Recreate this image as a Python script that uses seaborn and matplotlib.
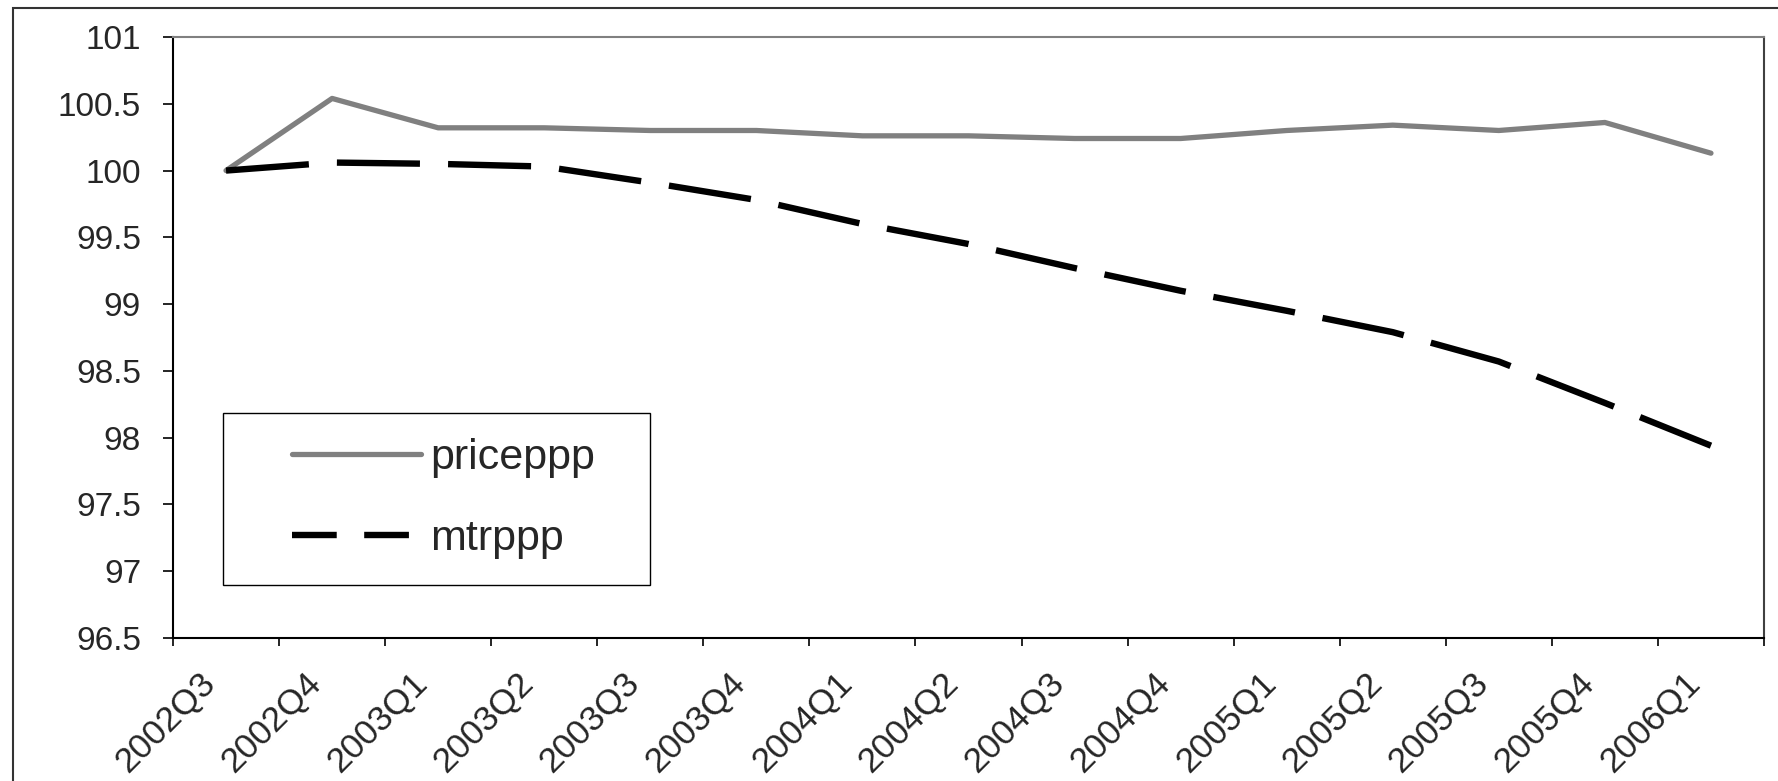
import matplotlib
matplotlib.use("Agg")
import matplotlib.pyplot as plt
import numpy as np
import pandas as pd
import seaborn as sns
from matplotlib.lines import Line2D
from matplotlib.patches import Rectangle
from matplotlib.ticker import FormatStrFormatter

# quarterly index values
quarters = ['2002Q3', '2002Q4', '2003Q1', '2003Q2', '2003Q3', '2003Q4', '2004Q1', '2004Q2',
            '2004Q3', '2004Q4', '2005Q1', '2005Q2', '2005Q3', '2005Q4', '2006Q1']
priceppp = [100.0, 100.54, 100.32, 100.32, 100.30, 100.30, 100.26, 100.26,
            100.24, 100.24, 100.30, 100.34, 100.30, 100.36, 100.13]
mtrppp = [100.0, 100.06, 100.05, 100.03, 99.91, 99.78, 99.60, 99.45,
          99.27, 99.10, 98.95, 98.79, 98.57, 98.26, 97.94]
yticks = [96.5, 97, 97.5, 98, 98.5, 99, 99.5, 100, 100.5, 101]

df = pd.DataFrame({'quarter': quarters, 'priceppp': priceppp, 'mtrppp': mtrppp})

sns.set_theme(style="white")
plt.rcParams['font.family'] = ['Liberation Sans', 'DejaVu Sans']

W, H = 1778, 781
fig = plt.figure(figsize=(W / 100, H / 100), dpi=100)
ax = fig.add_axes([173 / W, 1 - 638 / H, (1764 - 173) / W, (638 - 37) / H])

grey = '#808080'
sns.lineplot(data=df, x='quarter', y='priceppp', ax=ax, color=grey, lw=3.8,
             sort=False, legend=False, solid_capstyle='round')
sns.lineplot(data=df, x='quarter', y='mtrppp', ax=ax, color='black', lw=4.6,
             sort=False, legend=False, linestyle=(0, (13, 4.4)), dash_capstyle='butt')

n = len(quarters)
ax.set_xlim(-0.5, n - 0.5)
ax.set_ylim(96.5, 101)
ax.set_yticks(yticks)
ax.yaxis.set_major_formatter(FormatStrFormatter('%g'))
ax.tick_params(axis='y', direction='out', length=7, width=1.2, color='black',
               labelsize=24, pad=16, left=True)

# tick marks sit between categories, labels are shifted towards the point
ax.set_xticks(np.arange(n + 1) - 0.5)
ax.set_xticklabels([])
ax.set_xticks(np.arange(n) - 0.15, minor=True)
ax.set_xticklabels(quarters, minor=True, rotation=45, ha='right', va='center',
                   rotation_mode='anchor', fontsize=25.5)
ax.tick_params(axis='x', which='major', direction='out', length=6, width=1.2,
               color='black', bottom=True)
ax.tick_params(axis='x', which='minor', length=0, pad=29)
ax.set_xlabel('')
ax.set_ylabel('')

for side in ['left', 'bottom']:
    ax.spines[side].set_color('black')
    ax.spines[side].set_linewidth(1.5)
ax.spines['top'].set_color(grey)
ax.spines['top'].set_linewidth(1.5)
ax.spines['right'].set_color('#404040')
ax.spines['right'].set_linewidth(1.5)

# legend box
x0, x1 = (223 - 173) / 1591, (650 - 173) / 1591
y0, y1 = (638 - 585) / 601, (638 - 413) / 601
ax.add_patch(Rectangle((x0, y0), x1 - x0, y1 - y0, transform=ax.transAxes,
                       facecolor='white', edgecolor='black', lw=1.0, zorder=5))
handles = [Line2D([], [], color=grey, lw=3.8, solid_capstyle='round'),
           Line2D([], [], color='black', lw=4.6, dashes=(7, 4.3), dash_capstyle='butt')]
leg = ax.legend(handles, ['priceppp', 'mtrppp'], loc='upper left',
                bbox_to_anchor=((292 - 173) / 1591, (638 - 438) / 601),
                frameon=False, fontsize=31, handlelength=3.0, handletextpad=0.2,
                labelspacing=0.95, borderpad=0, borderaxespad=0)
leg.set_zorder(6)

# outer chart border
fig.patches.append(Rectangle((13 / W, -0.1), 1.2, 1.1 - 8 / H, transform=fig.transFigure,
                             facecolor='none', edgecolor='#333333', lw=1.5))

fig.savefig('out.png', dpi=100, facecolor='white')
